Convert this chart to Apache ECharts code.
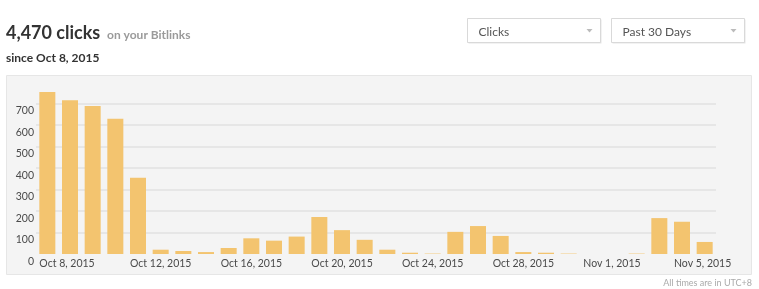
<!DOCTYPE html>
<html>
<head>
<meta charset="utf-8">
<script src="https://cdn.jsdelivr.net/npm/echarts@6/dist/echarts.min.js"></script>
<style>
html,body{margin:0;padding:0;background:#fff;}
#chart{width:759px;height:289px;}
</style>
</head>
<body>
<div id="chart"></div>
<script>
const categories = [
  "Oct 8, 2015","Oct 9, 2015","Oct 10, 2015","Oct 11, 2015","Oct 12, 2015","Oct 13, 2015",
  "Oct 14, 2015","Oct 15, 2015","Oct 16, 2015","Oct 17, 2015","Oct 18, 2015","Oct 19, 2015",
  "Oct 20, 2015","Oct 21, 2015","Oct 22, 2015","Oct 23, 2015","Oct 24, 2015","Oct 25, 2015",
  "Oct 26, 2015","Oct 27, 2015","Oct 28, 2015","Oct 29, 2015","Oct 30, 2015","Oct 31, 2015",
  "Nov 1, 2015","Nov 2, 2015","Nov 3, 2015","Nov 4, 2015","Nov 5, 2015","Nov 6, 2015"
];
const clicks = [
  754, 715, 688, 629, 355, 20,
  14, 9, 28, 73, 62, 81,
  172, 111, 66, 20, 6, 2,
  103, 130, 84, 9, 6, 2,
  0, 0, 2, 167, 150, 56
];
const yTicks = [0, 100, 200, 300, 400, 500, 600, 700];
const titleMain = "4,470 clicks";
const titleSub = "on your Bitlinks";
const sinceText = "since Oct 8, 2015";
const metricLabel = "Clicks";
const rangeLabel = "Past 30 Days";
const footerText = "All times are in UTC+8";

const FONT = 'Lato, "Open Sans", sans-serif';
const chart = echarts.init(document.getElementById('chart'), null, {renderer: 'canvas'});

function dropdown(x, y, w, h, label) {
  return [
    {type:'rect', shape:{x:x+1, y:y+1, width:w, height:h}, style:{fill:'#e6e6e6'}, z:-5, silent:true},
    {type:'rect', shape:{x:x, y:y, width:w, height:h}, style:{fill:'#fff', stroke:'#d9d9d9', lineWidth:1}, z:-4, silent:true},
    {type:'text', x:x+11, y:y+h/2+1.5, style:{text:label, fill:'#555', font:'12px ' + FONT, textVerticalAlign:'middle', verticalAlign:'middle'}, z:-3, silent:true},
    {type:'polygon', shape:{points:[[x+w-14, y+h/2-1.5],[x+w-8, y+h/2-1.5],[x+w-11, y+h/2+2]]}, style:{fill:'#bbb'}, z:-3, silent:true}
  ];
}

const option = {
  backgroundColor: '#ffffff',
  animation: false,
  textStyle: {fontFamily: FONT},
  grid: [
    {left: 36, right: 43, top: 82, bottom: 35, containLabel: false},
    {left: 36, right: 43, top: 89.5, bottom: 27.5, containLabel: false}
  ],
  graphic: {
    elements: [
      {type:'rect', shape:{x:6.5, y:75.5, width:745, height:199}, style:{fill:'#f4f4f4', stroke:'#e6e6e6', lineWidth:1}, z:-10, silent:true},
      {type:'text', x:6, y:42, style:{text:titleMain, fill:'#333', font:'bold 18px ' + FONT, textVerticalAlign:'bottom', verticalAlign:'bottom'}, silent:true},
      {type:'text', x:107, y:41, style:{text:titleSub, fill:'#9a9a9a', font:'bold 12px ' + FONT, textVerticalAlign:'bottom', verticalAlign:'bottom'}, silent:true},
      {type:'text', x:6, y:58.5, style:{text:sinceText, fill:'#333', font:'bold 12px ' + FONT, textVerticalAlign:'middle', verticalAlign:'middle'}, silent:true},
      ...dropdown(467.5, 18.5, 133, 24, metricLabel),
      ...dropdown(611.5, 18.5, 133, 24, rangeLabel),
      {type:'text', x:752, y:283, style:{text:footerText, fill:'#aaa', font:'9px ' + FONT, textAlign:'right', align:'right', textVerticalAlign:'middle', verticalAlign:'middle'}, silent:true}
    ]
  },
  xAxis: [{
    type: 'category',
    gridIndex: 0,
    data: categories,
    boundaryGap: true,
    axisLine: {show: false},
    axisTick: {show: false},
    splitLine: {show: false},
    axisLabel: {
      interval: 3,
      align: 'left',
      margin: 4,
      padding: [0, 0, 0, -8],
      color: '#4a4a4a',
      fontSize: 10.5,
      fontFamily: FONT
    }
  }, {
    type: 'category',
    gridIndex: 1,
    data: categories,
    show: false
  }],
  yAxis: [{
    type: 'value',
    gridIndex: 0,
    min: 0,
    max: 800,
    interval: 100,
    axisLine: {show: false},
    axisTick: {show: false},
    axisLabel: {show: false},
    splitLine: {
      show: true,
      lineStyle: {
        color: ['rgba(0,0,0,0)', '#e2e2e2', '#e2e2e2', '#e2e2e2', '#e2e2e2', '#e2e2e2', '#e2e2e2', '#e2e2e2', 'rgba(0,0,0,0)'],
        width: 1.5
      }
    }
  }, {
    type: 'value',
    gridIndex: 1,
    min: 0,
    max: 800,
    interval: 100,
    axisLine: {show: false},
    axisTick: {show: false},
    splitLine: {show: false},
    axisLabel: {
      margin: 2,
      color: '#4a4a4a',
      fontSize: 10.5,
      fontFamily: FONT,
      showMinLabel: true,
      formatter: function (v) { return yTicks.indexOf(v) >= 0 ? String(v) : ''; }
    }
  }],
  series: [{
    type: 'bar',
    xAxisIndex: 0,
    yAxisIndex: 0,
    data: clicks,
    barWidth: 16,
    itemStyle: {color: '#f3c46f'}
  }]
};
chart.setOption(option);
</script>
</body>
</html>
